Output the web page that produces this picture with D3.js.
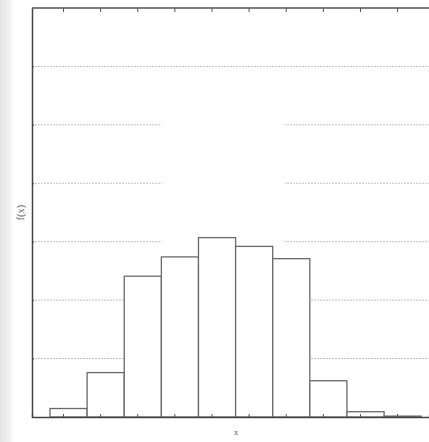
<!DOCTYPE html>
<html>
<head>
<meta charset="utf-8">
<script src="https://cdn.jsdelivr.net/npm/d3@7"></script>
<style>
  html, body { margin: 0; padding: 0; background: #fff; }
  svg { display: block; }
</style>
</head>
<body>
<svg id="svg"></svg>
<script>
// histogram bins: edges and density per bin
const binEdges = [0.65, 1.65, 2.65, 3.65, 4.65, 5.65, 6.65, 7.65, 8.65, 9.65, 10.65]
const binValues = [0.145, 0.76, 2.41, 2.74, 3.07, 2.92, 2.71, 0.62, 0.09, 0.015]
const xTicks = [1, 2, 3, 4, 5, 6, 7, 8, 9, 10]
const yGrid = [1, 2, 3, 4, 5, 6]

const width = 429
const height = 442
const margin = {top: 8, right: 0, bottom: 25, left: 32}

const x = d3.scaleLinear()
  .domain([0.165, 10.86])
  .range([margin.left, width - margin.right])

const y = d3.scaleLinear()
  .domain([0, 7])
  .range([height - margin.bottom, margin.top])

const svg = d3.select("#svg")
  .attr("width", width)
  .attr("height", height)

// paper-ish left edge
const defs = svg.append("defs")
const grad = defs.append("linearGradient").attr("id", "edge")
grad.append("stop").attr("offset", "0%").attr("stop-color", "#e4e4e4")
grad.append("stop").attr("offset", "60%").attr("stop-color", "#efefef")
grad.append("stop").attr("offset", "100%").attr("stop-color", "#fff")
svg.append("rect").attr("x", 0).attr("y", 0).attr("width", 14).attr("height", height).attr("fill", "url(#edge)")

// dotted grid
svg.append("g")
  .selectAll("line")
  .data(yGrid)
  .join("line")
    .attr("x1", margin.left)
    .attr("x2", width)
    .attr("y1", d => y(d))
    .attr("y2", d => y(d))
    .attr("stroke", "#c4c4c4")
    .attr("stroke-width", 1)
    .attr("stroke-dasharray", "2,1")

// empty box that hides part of the grid
svg.append("rect")
  .attr("x", x(3.66)).attr("y", y(5.6))
  .attr("width", x(6.97) - x(3.66))
  .attr("height", y(2.9) - y(5.6))
  .attr("fill", "#fff")

// bars
svg.append("g")
  .selectAll("rect")
  .data(binValues)
  .join("rect")
    .attr("x", (d, i) => x(binEdges[i]))
    .attr("y", d => y(d))
    .attr("width", (d, i) => x(binEdges[i + 1]) - x(binEdges[i]))
    .attr("height", d => y(0) - y(d))
    .attr("fill", "#fff")
    .attr("stroke", "#6a6a6a")
    .attr("stroke-width", 1.3)

// frame: top and left
svg.append("line")
  .attr("x1", margin.left).attr("x2", width)
  .attr("y1", y(7)).attr("y2", y(7))
  .attr("stroke", "#555").attr("stroke-width", 1.5)

svg.append("g")
  .attr("transform", `translate(0,${y(0)})`)
  .call(d3.axisTop(x).tickValues(xTicks).tickSize(3).tickFormat(""))
  .call(g => g.select(".domain").attr("stroke", "#444").attr("stroke-width", 1.3))
  .call(g => g.selectAll(".tick line").attr("stroke", "#555"))

svg.append("g")
  .attr("transform", `translate(0,${y(7)})`)
  .call(d3.axisBottom(x).tickValues(xTicks).tickSize(4).tickFormat(""))
  .call(g => g.select(".domain").remove())
  .call(g => g.selectAll(".tick line").attr("stroke", "#555"))

svg.append("g")
  .attr("transform", `translate(${margin.left},0)`)
  .call(d3.axisRight(y).tickValues(yGrid).tickSize(2).tickFormat("").tickSizeOuter(0))
  .call(g => g.select(".domain").attr("stroke", "#444").attr("stroke-width", 1.5))
  .call(g => g.selectAll(".tick line").attr("stroke", "#444"))

// axis titles
svg.append("text")
  .attr("transform", `translate(24,${y(3.5)}) rotate(-90)`)
  .attr("text-anchor", "middle")
  .attr("font-family", "Liberation Serif, serif")
  .attr("font-size", 10.5)
  .attr("fill", "#666")
  .text("f(x)")

svg.append("text")
  .attr("x", 236)
  .attr("y", 435)
  .attr("text-anchor", "middle")
  .attr("font-family", "Liberation Serif, serif")
  .attr("font-size", 8.5)
  .attr("fill", "#555")
  .text("x")
</script>
</body>
</html>
